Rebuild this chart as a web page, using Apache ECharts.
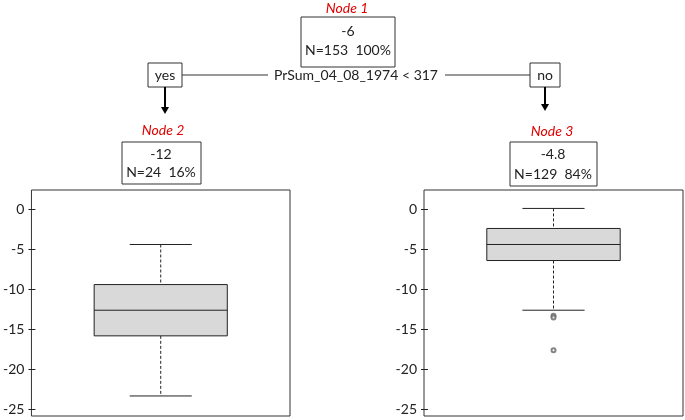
<!DOCTYPE html>
<html>
<head>
<meta charset="utf-8">
<script src="https://cdn.jsdelivr.net/npm/echarts@6/dist/echarts.min.js"></script>
<style>
  html, body { margin: 0; padding: 0; background: #fff; }
  #chart { width: 685px; height: 420px; }
</style>
</head>
<body>
<div id="chart"></div>
<script>
// terminal nodes (left = Node 2, right = Node 3)
const leafNames = ['Node 2', 'Node 3']
const lowerWhisker = [-23.3, -12.6]
const q1 = [-15.8, -6.4]
const median = [-12.6, -4.4]
const q3 = [-9.4, -2.4]
const upperWhisker = [-4.4, 0.1]
const outliersNode3 = [-13.3, -13.5, -17.6]
const yTicks = [0, -5, -10, -15, -20, -25]

// tree node text
const nodeTitles = ['Node 1', 'Node 2', 'Node 3']
const nodeMeans = ['-6', '-12', '-4.8']
const nodeCounts = [153, 24, 129]
const nodePercents = [100, 16, 84]
const splitRule = 'PrSum_04_08_1974 < 317'
const branchLabels = ['yes', 'no']

const FONT = 'Lato, "Open Sans", sans-serif'
const INK = '#222'

const chart = echarts.init(document.getElementById('chart'))

function renderBox(params, api) {
  const i = api.value(0)
  const cat = api.value(1)
  const cx = api.coord([cat, median[i]])[0]
  const band = api.size([1, 0])[0]
  const bw = band * 0.515
  const cw = band * 0.12
  const y = v => api.coord([cat, v])[1]
  const solid = { stroke: INK, lineWidth: 1, fill: null }
  const dashed = { stroke: INK, lineWidth: 1, lineDash: [3, 2], fill: null }
  return {
    type: 'group',
    children: [
      { type: 'line', shape: { x1: cx, y1: y(upperWhisker[i]), x2: cx, y2: y(q3[i]) }, style: dashed },
      { type: 'line', shape: { x1: cx, y1: y(q1[i]), x2: cx, y2: y(lowerWhisker[i]) }, style: dashed },
      { type: 'line', shape: { x1: cx - cw, y1: y(upperWhisker[i]), x2: cx + cw, y2: y(upperWhisker[i]) }, style: solid },
      { type: 'line', shape: { x1: cx - cw, y1: y(lowerWhisker[i]), x2: cx + cw, y2: y(lowerWhisker[i]) }, style: solid },
      { type: 'rect', shape: { x: cx - bw / 2, y: y(q3[i]), width: bw, height: y(q1[i]) - y(q3[i]) },
        style: { fill: '#d9d9d9', stroke: INK, lineWidth: 1 } },
      { type: 'line', shape: { x1: cx - bw / 2, y1: y(median[i]), x2: cx + bw / 2, y2: y(median[i]) }, style: solid },
    ],
  }
}

function yAxisFor(gridIndex) {
  return {
    type: 'value',
    gridIndex,
    min: -25.8,
    max: 2.4,
    offset: 3,
    axisLine: { show: false },
    splitLine: { show: false },
    axisTick: { show: true, inside: true, length: 7, customValues: yTicks, lineStyle: { color: INK } },
    axisLabel: { customValues: yTicks, color: INK, fontSize: 14, fontFamily: FONT, margin: 4 },
  }
}

function xAxisFor(gridIndex, name) {
  return {
    type: 'category',
    gridIndex,
    data: [name],
    axisLine: { show: false },
    axisTick: { show: false },
    axisLabel: { show: false },
  }
}

function txt(x, y, text, extra) {
  return {
    type: 'text', x, y,
    style: Object.assign({ text, textAlign: 'center', textVerticalAlign: 'middle',
      fontSize: 14, fontFamily: FONT, fill: INK }, extra || {}),
  }
}
function box(x, y, w, h) {
  return { type: 'rect', shape: { x, y, width: w, height: h }, style: { fill: '#fff', stroke: '#333', lineWidth: 1 } }
}
function seg(x1, y1, x2, y2) {
  return { type: 'line', shape: { x1, y1, x2, y2 }, style: { stroke: '#333', lineWidth: 1 } }
}
function arrow(x, y1, y2) {
  return [
    { type: 'line', shape: { x1: x, y1, x2: x, y2: y2 - 6 }, style: { stroke: '#000', lineWidth: 2 } },
    { type: 'polygon', shape: { points: [[x - 4, y2 - 7], [x + 4, y2 - 7], [x, y2]] }, style: { fill: '#000' } },
  ]
}
const title = { fontStyle: 'italic', fill: '#e00000' }
const nLine = k => 'N=' + nodeCounts[k] + '  ' + nodePercents[k] + '%'

const graphic = [
  txt(347, 8, nodeTitles[0], title),
  box(301, 17, 94, 50),
  txt(348, 31, nodeMeans[0]),
  txt(348, 50, nLine(0)),
  seg(182, 75, 268, 75),
  seg(445, 75, 530, 75),
  txt(356, 75, splitRule),
  box(148, 63, 34, 24),
  txt(165, 75, branchLabels[0]),
  box(530, 63, 30, 24),
  txt(545, 75, branchLabels[1]),
  ...arrow(165, 87, 114),
  ...arrow(545, 87, 111),
  txt(163, 130, nodeTitles[1], title),
  box(122, 142, 79, 42),
  txt(161, 154, nodeMeans[1]),
  txt(161, 172, nLine(1)),
  txt(552, 131, nodeTitles[2], title),
  box(510, 142, 87, 44),
  txt(553, 154, nodeMeans[2]),
  txt(553, 174, nLine(2)),
]

chart.setOption({
  animation: false,
  backgroundColor: '#fff',
  grid: [
    { left: 30, top: 190, width: 260, height: 226, show: true, borderColor: '#333', borderWidth: 1 },
    { left: 424, top: 190, width: 259, height: 226, show: true, borderColor: '#333', borderWidth: 1 },
  ],
  xAxis: [xAxisFor(0, leafNames[0]), xAxisFor(1, leafNames[1])],
  yAxis: [yAxisFor(0), yAxisFor(1)],
  series: [
    { type: 'custom', xAxisIndex: 0, yAxisIndex: 0, renderItem: renderBox,
      encode: { x: 1, y: 2 }, data: [[0, leafNames[0], median[0]]] },
    { type: 'custom', xAxisIndex: 1, yAxisIndex: 1, renderItem: renderBox,
      encode: { x: 1, y: 2 }, data: [[1, leafNames[1], median[1]]] },
    { type: 'scatter', xAxisIndex: 1, yAxisIndex: 1, symbol: 'emptyCircle', symbolSize: 4, z: 5,
      itemStyle: { color: '#666', borderWidth: 1 },
      data: outliersNode3.map(v => [leafNames[1], v]) },
  ],
  graphic,
})
</script>
</body>
</html>
